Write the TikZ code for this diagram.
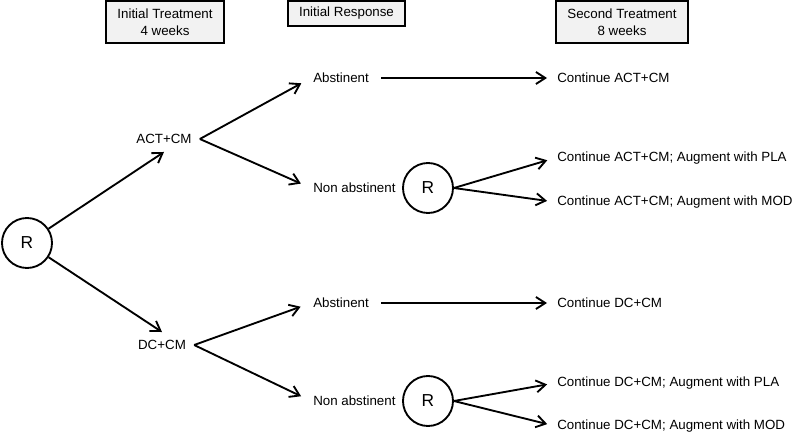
\documentclass[tikz,border=0pt]{standalone}
\usepackage{fontspec}
\setmainfont{Liberation Sans}
\usetikzlibrary{arrows.meta}

\begin{document}
\begin{tikzpicture}[x=0.75pt, y=-0.75pt]

% GLOBAL SETTINGS
\newlength{\px}
\setlength{\px}{0.75pt}
\tikzset{
  hdr/.style={draw, thick, fill=black!5, align=center, inner sep=0pt, font=\fontsize{10}{12.5}\selectfont},
  trt/.style={inner sep=8\px, font=\fontsize{10}{12}\selectfont},
  lbl/.style={anchor=west, inner sep=2\px, font=\fontsize{10}{12}\selectfont},
  rnd/.style={draw, circle, line width=1.4pt, minimum size=50\px, inner sep=0pt, font=\fontsize{13}{15}\selectfont},
  flow/.style={line width=1.4pt, -{Straight Barb[length=7pt, width=9pt]}}
}
\useasboundingbox (0,0) rectangle (800,435);

% HEADERS
\node[hdr, minimum width=118\px, minimum height=42\px] (H1) at (165,22) {Initial Treatment\\4 weeks};
\node[hdr, minimum width=117\px, minimum height=25\px] (H2) at (346.5,13.5) {Initial Response};
\node[hdr, minimum width=132\px, minimum height=42\px] (H3) at (622,22) {Second Treatment\\8 weeks};

% R
\node[rnd] (R0) at (27,243) {R};
% treatments
\node[trt] (T1) at (164,139) {ACT+CM};
\node[trt] (T2) at (162,345) {DC+CM};
% responses
\path foreach \j/\ya/\yn in {1/78/188, 2/303/401} {
  (311,\ya) node[lbl] (A\j) {Abstinent}
  (311,\yn) node[lbl] (N\j) {Non abstinent}
  (428,\yn) node[rnd] (R\j) {R}
};
% second treatment
\node[lbl] (C1) at (555,78) {Continue ACT+CM};
\node[lbl] (P1) at (555,158) {Continue ACT+CM; Augment with PLA};
\node[lbl] (M1) at (555,202) {Continue ACT+CM; Augment with MOD};
\node[lbl] (C2) at (555,303) {Continue DC+CM};
\node[lbl] (P2) at (555,383) {Continue DC+CM; Augment with PLA};
\node[lbl] (M2) at (555,426) {Continue DC+CM; Augment with MOD};

% EDGES
\draw[flow] (R0) -- (T1.south);
\draw[flow] (R0) -- (T2.north);
\foreach \j in {1,2} {
\draw[flow, shorten >=11\px] (T\j.east) -- (A\j.west);
\draw[flow, shorten >=11\px] (T\j.east) -- (N\j.west);
\draw[flow, shorten <=10\px, shorten >=8\px] (A\j.east) -- (C\j.west);
\draw[flow, shorten >=8\px] (R\j.east) -- (P\j.west);
\draw[flow, shorten >=8\px] (R\j.east) -- (M\j.west);
}

\end{tikzpicture}
\end{document}
